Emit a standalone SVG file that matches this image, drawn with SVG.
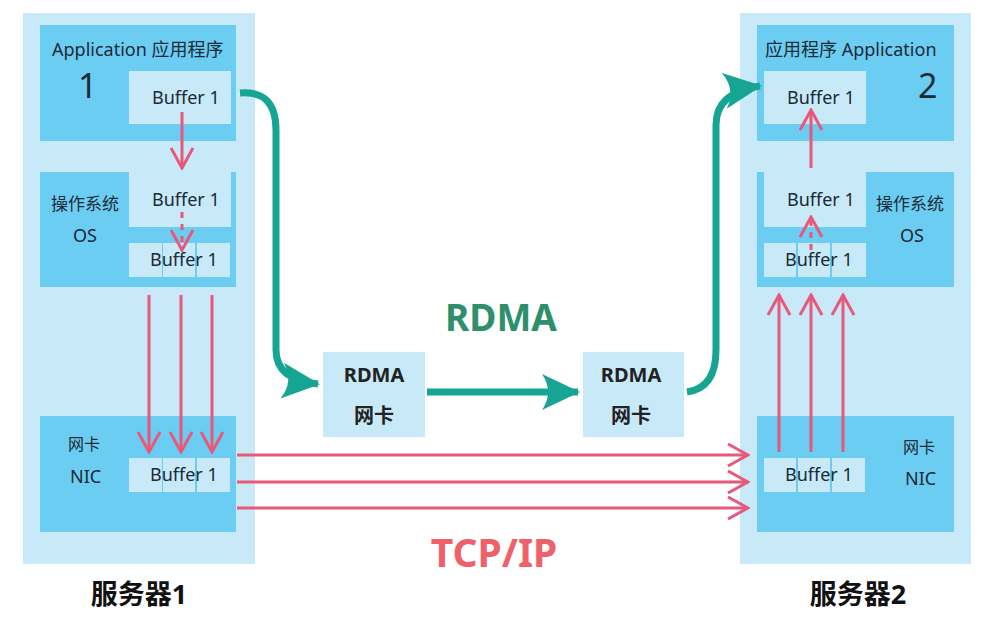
<svg xmlns="http://www.w3.org/2000/svg" width="996" height="623" viewBox="0 0 996 623">
<style>
.o{fill:#c8e9f8}.b{fill:#6ccdf3}.f{fill:#c8e9f8}
.t{font-family:"Noto Sans","Noto Sans CJK SC",sans-serif;fill:#1a2a36}
.r{stroke:#e8587a;stroke-width:3;fill:none}
.g{stroke:#17a593;stroke-width:7;fill:none}
.bold{font-family:"Noto Sans","Noto Sans CJK SC",sans-serif;font-weight:bold}
</style>
<defs>
<marker id="ra" viewBox="0 0 12 12" refX="11" refY="6" markerWidth="12" markerHeight="12" markerUnits="userSpaceOnUse" orient="auto"><path d="M1,0 L11,6 L1,12" fill="none" stroke="#e8587a" stroke-width="2.5"/></marker>
<marker id="rb" viewBox="0 0 24 24" refX="22" refY="12" markerWidth="24" markerHeight="24" markerUnits="userSpaceOnUse" orient="auto"><path d="M2,1 L22,12 L2,23" fill="none" stroke="#e8587a" stroke-width="3"/></marker>
<marker id="ga" viewBox="0 0 40 40" refX="36" refY="20" markerWidth="40" markerHeight="40" markerUnits="userSpaceOnUse" orient="auto"><path d="M0,2 L38,20 L0,38 Q12,20 0,2 Z" fill="#17a593"/></marker>
</defs>
<g id="server1">
<rect class="o" x="23" y="13" width="232" height="551"/>
<text class="bold" x="139" y="604" font-size="27" text-anchor="middle" fill="#111">服务器1</text>
</g>
<g id="app1">
<rect class="b" x="40" y="25" width="196" height="116"/>
<text class="t" x="52" y="56" font-size="18">Application 应用程序</text>
<text class="t" x="78" y="98" font-size="34">1</text>
<rect class="f" x="129" y="71" width="102" height="53"/>
<text class="t" x="152" y="104" font-size="18">Buffer 1</text>
</g>
<g id="os1">
<rect class="b" x="40" y="172" width="196" height="115"/>
<text class="t" x="51" y="210" font-size="17">操作系统</text>
<text class="t" x="73" y="242" font-size="18">OS</text>
<rect class="f" x="129" y="172" width="102" height="55"/>
<text class="t" x="152" y="206" font-size="18">Buffer 1</text>
<rect class="f" x="129" y="243" width="33" height="34"/><rect class="f" x="163" y="243" width="32" height="34"/><rect class="f" x="197" y="243" width="33" height="34"/>
<text class="t" x="150" y="266" font-size="18">Buffer 1</text>
</g>
<g id="nic1">
<rect class="b" x="40" y="416" width="196" height="116"/>
<text class="t" x="68" y="450" font-size="16">网卡</text>
<text class="t" x="70" y="483" font-size="18">NIC</text>
<rect class="f" x="129" y="458" width="33" height="34"/><rect class="f" x="163" y="458" width="32" height="34"/><rect class="f" x="197" y="458" width="33" height="34"/>
<text class="t" x="150" y="481" font-size="18">Buffer 1</text>
</g>
<g id="server2">
<rect class="o" x="740" y="13" width="231" height="551"/>
<text class="bold" x="858" y="604" font-size="27" text-anchor="middle" fill="#111">服务器2</text>
</g>
<g id="app2">
<rect class="b" x="757" y="25" width="197" height="116"/>
<text class="t" x="765" y="56" font-size="18">应用程序 Application</text>
<text class="t" x="918" y="98" font-size="34">2</text>
<rect class="f" x="764" y="71" width="102" height="53"/>
<text class="t" x="787" y="104" font-size="18">Buffer 1</text>
</g>
<g id="os2">
<rect class="b" x="757" y="172" width="197" height="115"/>
<text class="t" x="876" y="210" font-size="17">操作系统</text>
<text class="t" x="900" y="242" font-size="18">OS</text>
<rect class="f" x="764" y="172" width="102" height="55"/>
<text class="t" x="787" y="206" font-size="18">Buffer 1</text>
<rect class="f" x="764" y="243" width="32" height="34"/><rect class="f" x="798" y="243" width="32" height="34"/><rect class="f" x="832" y="243" width="34" height="34"/>
<text class="t" x="785" y="266" font-size="18">Buffer 1</text>
</g>
<g id="nic2">
<rect class="b" x="757" y="416" width="197" height="116"/>
<text class="t" x="903" y="453" font-size="16">网卡</text>
<text class="t" x="905" y="485" font-size="18">NIC</text>
<rect class="f" x="764" y="458" width="32" height="34"/><rect class="f" x="798" y="458" width="32" height="34"/><rect class="f" x="832" y="458" width="33" height="34"/>
<text class="t" x="785" y="481" font-size="18">Buffer 1</text>
</g>
<g id="rdma1">
<rect class="f" x="323" y="352" width="102" height="85"/>
<text class="bold" x="374" y="382" font-size="20" text-anchor="middle" fill="#222">RDMA</text>
<text class="bold" x="374" y="423" font-size="20" text-anchor="middle" fill="#222">网卡</text>
</g>
<g id="rdma2">
<rect class="f" x="583" y="352" width="101" height="85"/>
<text class="bold" x="631" y="382" font-size="20" text-anchor="middle" fill="#222">RDMA</text>
<text class="bold" x="631" y="423" font-size="20" text-anchor="middle" fill="#222">网卡</text>
</g>
<g id="labels">
<text class="bold" x="501" y="331" font-size="37" text-anchor="middle" fill="#2f8f6b">RDMA</text>
<text class="bold" x="494" y="567" font-size="39" text-anchor="middle" fill="#f0606a">TCP/IP</text>
</g>
<g id="connectors">
<path class="r" d="M182,112 V168" marker-end="url(#rb)"/>
<path class="r" d="M182,212 V250" stroke-dasharray="6,6" marker-end="url(#rb)"/>
<path class="r" d="M149,295 V452" marker-end="url(#rb)"/>
<path class="r" d="M181,295 V452" marker-end="url(#rb)"/>
<path class="r" d="M212,295 V452" marker-end="url(#rb)"/>
<path class="r" d="M237,455 H748" marker-end="url(#rb)"/>
<path class="r" d="M237,482 H748" marker-end="url(#rb)"/>
<path class="r" d="M237,508 H748" marker-end="url(#rb)"/>
<path class="r" d="M779,452 V295" marker-end="url(#rb)"/>
<path class="r" d="M811,452 V295" marker-end="url(#rb)"/>
<path class="r" d="M843,452 V295" marker-end="url(#rb)"/>
<path class="r" d="M811,250 V217" stroke-dasharray="6,6" marker-end="url(#rb)"/>
<path class="r" d="M811,168 V110" marker-end="url(#rb)"/>
<path class="g" d="M240,93 Q276,90 276,130 V350 Q276,380 318,384" marker-end="url(#ga)"/>
<path class="g" d="M427,392 H578" marker-end="url(#ga)"/>
<path class="g" d="M687,392 Q716,388 716,350 V125 Q716,92 760,86" marker-end="url(#ga)"/>
</g>
</svg>
